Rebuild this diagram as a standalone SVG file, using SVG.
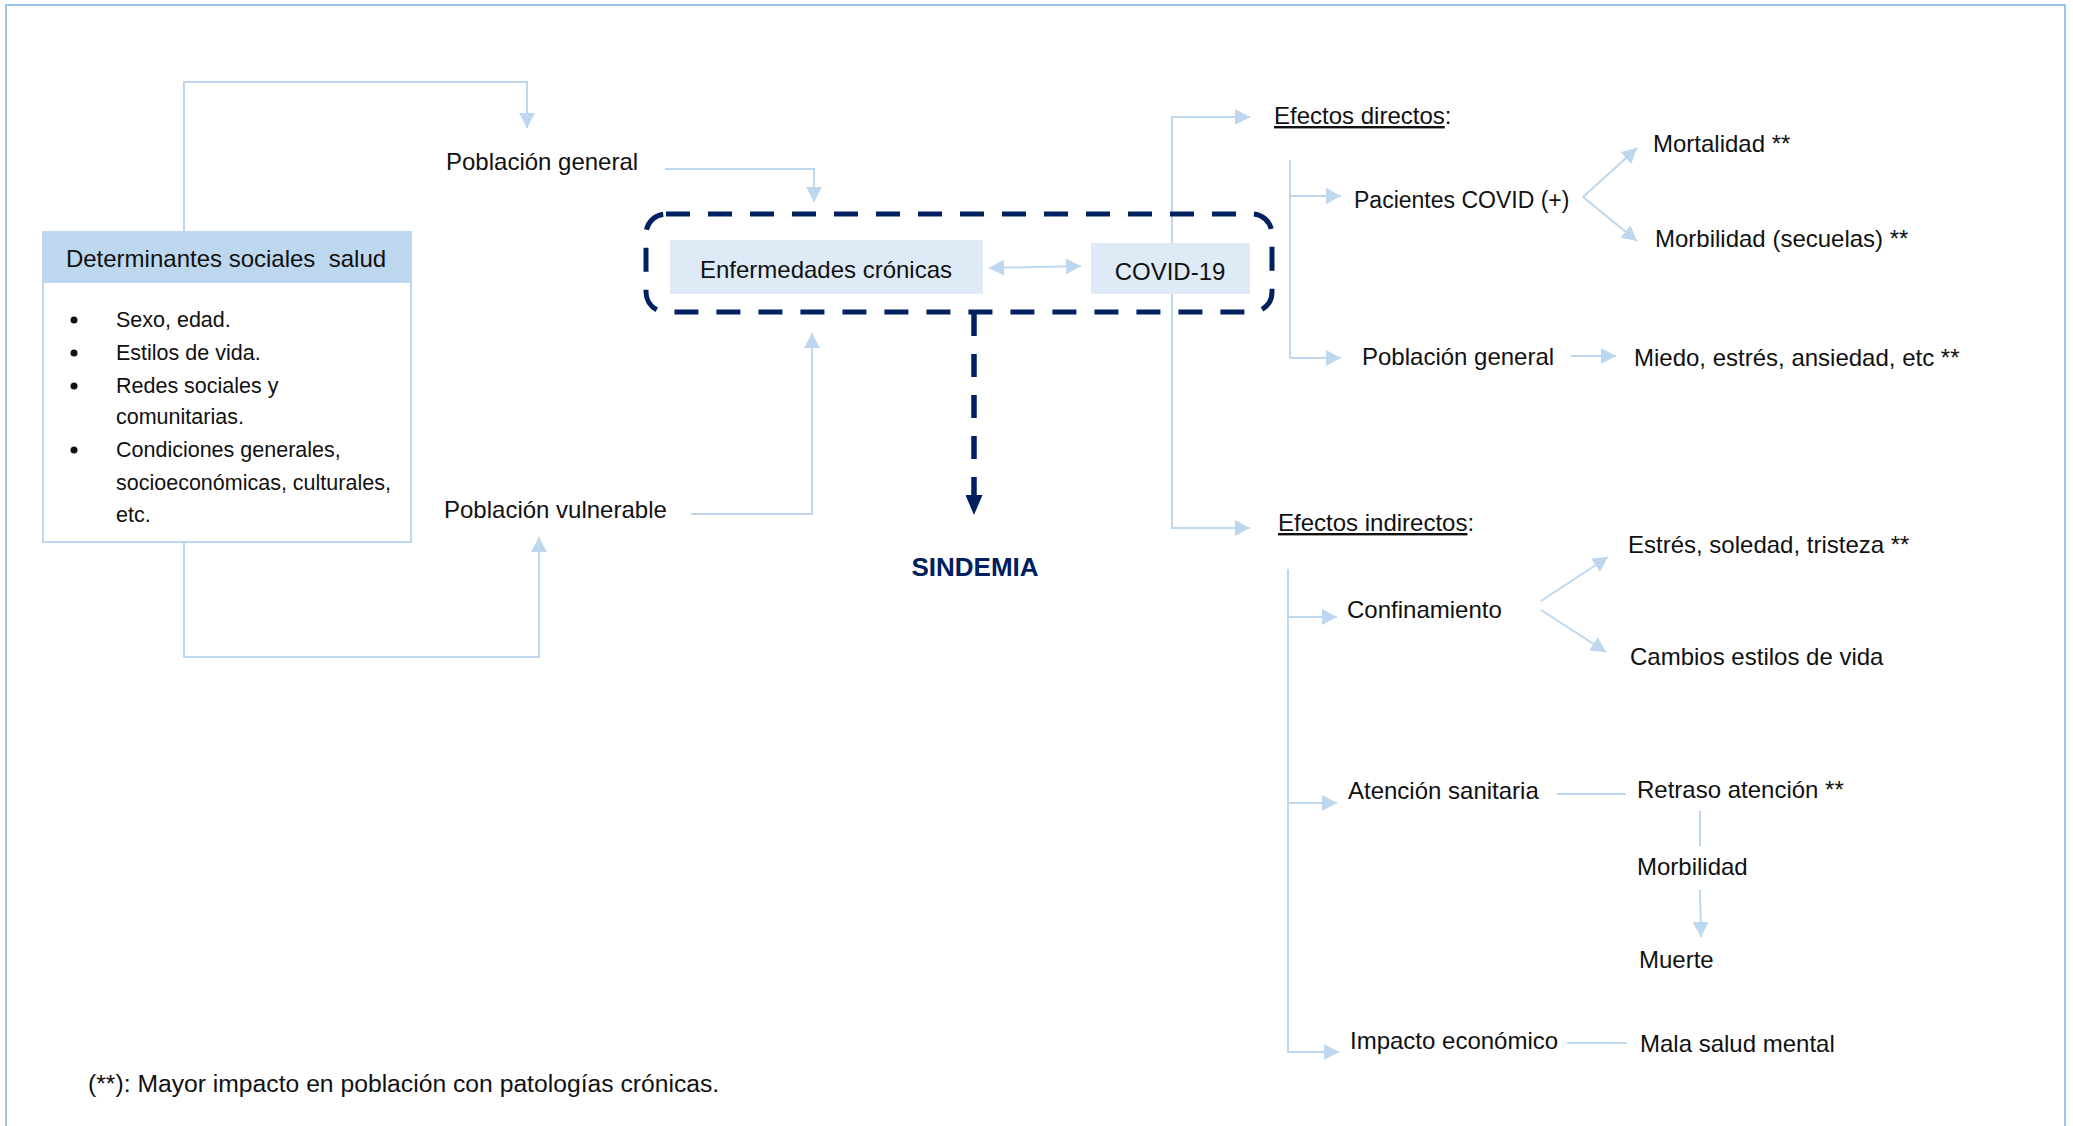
<svg xmlns="http://www.w3.org/2000/svg" width="2073" height="1126" viewBox="0 0 2073 1126">
<style>
text{font-family:"Liberation Sans",Arial,sans-serif;font-size:24px;fill:#111}
.sm{font-size:21.5px}
.ln{fill:none;stroke:#BDD7EE;stroke-width:2}
.arr{marker-end:url(#ah)}
.box{fill:#DEEBF7}
</style>
<defs>
<marker id="ah" viewBox="0 0 15 16" refX="15" refY="8" markerWidth="15" markerHeight="16" markerUnits="userSpaceOnUse" orient="auto-start-reverse"><path d="M0,0 L15,8 L0,16 z" fill="#BDD7EE"/></marker>
<marker id="nh" viewBox="0 0 17 20" refX="8.5" refY="20" markerWidth="17" markerHeight="20" markerUnits="userSpaceOnUse" orient="0"><path d="M0,0 L17,0 L8.5,20 z" fill="#002060"/></marker>
</defs>
<rect x="6" y="5" width="2059" height="1140" fill="none" stroke="#9DC3E6" stroke-width="2"/>

<g id="connectors">
<path class="ln arr" d="M184,232 V82 H527 V128"/>
<path class="ln arr" d="M184,542 V657 H539 V537"/>
<path class="ln arr" d="M665,169 H814 V202"/>
<path class="ln arr" d="M691,514 H812 V333"/>
<path class="ln arr" d="M989,268 L1081,266" style="marker-start:url(#ah)"/>
<path d="M974,313 V497" fill="none" stroke="#002060" stroke-width="5.5" stroke-dasharray="23 18"/>
<path d="M974,514 V515" fill="none" stroke="none" marker-end="url(#nh)"/>
<path class="ln arr" d="M1172,322 V117 H1250"/>
<path class="ln arr" d="M1172,322 V528 H1250"/>
<path class="ln" d="M1290,160 V358"/>
<path class="ln arr" d="M1290,196 H1341"/>
<path class="ln arr" d="M1290,358 H1341"/>
<path class="ln arr" d="M1583,197 L1637,148"/>
<path class="ln arr" d="M1583,197 L1637,241"/>
<path class="ln arr" d="M1571,356 H1616"/>
<path class="ln" d="M1288,569 V1053"/>
<path class="ln arr" d="M1288,617 H1337"/>
<path class="ln arr" d="M1288,803 H1337"/>
<path class="ln arr" d="M1288,1052 H1339"/>
<path class="ln arr" d="M1541,601 L1608,557"/>
<path class="ln arr" d="M1541,610 L1606,652"/>
<path class="ln" d="M1557,794 H1626"/>
<path class="ln" d="M1700,811 V846"/>
<path class="ln arr" d="M1700,890 L1701,937"/>
<path class="ln" d="M1567,1043 H1627"/>
</g>

<g id="determinantes">
<rect x="43" y="232" width="368" height="310" fill="#fff" stroke="#BDD7EE" stroke-width="2"/>
<rect x="42" y="232" width="370" height="51" fill="#BDD7EE"/>
<text x="226" y="267" text-anchor="middle" xml:space="preserve">Determinantes sociales  salud</text>
<g fill="#111">
<circle cx="74" cy="320" r="3.5"/><circle cx="74" cy="353" r="3.5"/><circle cx="74" cy="386" r="3.5"/><circle cx="74" cy="450" r="3.5"/>
</g>
<text class="sm" x="116" y="327">Sexo, edad.</text>
<text class="sm" x="116" y="360">Estilos de vida.</text>
<text class="sm" x="116" y="393">Redes sociales y</text>
<text class="sm" x="116" y="424">comunitarias.</text>
<text class="sm" x="116" y="457">Condiciones generales,</text>
<text class="sm" x="116" y="490">socioeconómicas, culturales,</text>
<text class="sm" x="116" y="522">etc.</text>
</g>

<g id="poblacion-general"><text x="446" y="170">Población general</text></g>
<g id="poblacion-vulnerable"><text x="444" y="518">Población vulnerable</text></g>

<g id="sindemia-box">
<rect x="646" y="214" width="626" height="98" rx="20" fill="none" stroke="#002060" stroke-width="5" stroke-dasharray="24 18"/>
</g>
<g id="enfermedades"><rect class="box" x="670" y="240" width="313" height="54"/><text x="826" y="278" text-anchor="middle">Enfermedades crónicas</text></g>
<g id="covid"><rect class="box" x="1091" y="243" width="159" height="51"/><text x="1170" y="280" text-anchor="middle">COVID-19</text></g>
<g id="sindemia"><text x="975" y="576" text-anchor="middle" style="font-weight:bold;font-size:26px;fill:#002060">SINDEMIA</text></g>

<g id="efectos-directos"><text x="1274" y="124"><tspan text-decoration="underline">Efectos directos</tspan>:</text></g>
<g id="pacientes"><text x="1354" y="208" style="font-size:23px">Pacientes COVID (+)</text></g>
<g id="mortalidad"><text x="1653" y="152">Mortalidad **</text></g>
<g id="morbilidad-secuelas"><text x="1655" y="247">Morbilidad (secuelas) **</text></g>
<g id="poblacion-general-2"><text x="1362" y="365">Población general</text></g>
<g id="miedo"><text x="1634" y="366">Miedo, estrés, ansiedad, etc **</text></g>

<g id="efectos-indirectos"><text x="1278" y="531"><tspan text-decoration="underline">Efectos indirectos</tspan>:</text></g>
<g id="confinamiento"><text x="1347" y="618">Confinamiento</text></g>
<g id="estres"><text x="1628" y="553">Estrés, soledad, tristeza **</text></g>
<g id="cambios"><text x="1630" y="665">Cambios estilos de vida</text></g>
<g id="atencion"><text x="1348" y="799">Atención sanitaria</text></g>
<g id="retraso"><text x="1637" y="798">Retraso atención **</text></g>
<g id="morbilidad"><text x="1637" y="875">Morbilidad</text></g>
<g id="muerte"><text x="1639" y="968">Muerte</text></g>
<g id="impacto"><text x="1350" y="1049">Impacto económico</text></g>
<g id="mala-salud"><text x="1640" y="1052">Mala salud mental</text></g>

<g id="footnote"><text x="88" y="1092" style="font-size:24.7px">(**): Mayor impacto en población con patologías crónicas.</text></g>
</svg>
